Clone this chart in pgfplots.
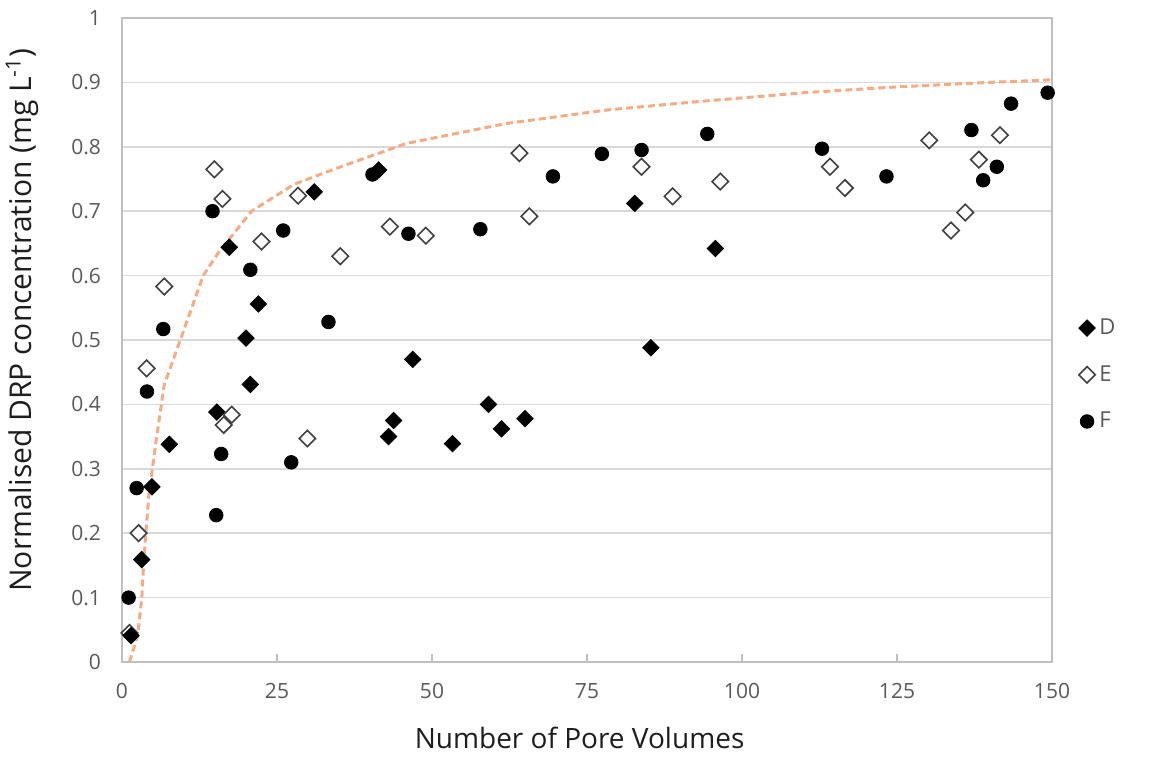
\documentclass[border=0pt]{standalone}
\usepackage{fontspec}
\setmainfont{Open Sans}
\usepackage{pgfplots}
\pgfplotsset{compat=1.18}
\definecolor{gridc}{RGB}{217,217,217}
\definecolor{axc}{RGB}{191,191,191}
\definecolor{tickc}{RGB}{89,89,89}
\definecolor{labc}{RGB}{30,30,30}
\definecolor{curvec}{RGB}{244,172,132}
\definecolor{edgec}{RGB}{64,64,64}
\begin{document}
\begin{tikzpicture}
\useasboundingbox (0,0) rectangle (579pt,379pt);
\begin{axis}[
  at={(61pt,48pt)}, anchor=south west,
  scale only axis, width=465pt, height=322pt,
  xmin=0, xmax=150, ymin=0, ymax=1,
  xtick={0,25,50,75,100,125,150},
  xticklabels={0,25,50,75,100,125,150},
  ytick={0,0.1,0.2,0.3,0.4,0.5,0.6,0.7,0.8,0.9,1},
  yticklabels={0,0.1,0.2,0.3,0.4,0.5,0.6,0.7,0.8,0.9,1},
  ymajorgrids, major grid style={gridc, line width=0.8pt},
  axis line style={axc, line width=0.8pt},
  tick align=inside, xtick pos=bottom, ytick pos=left,
  xtick style={axc, line width=0.8pt}, major tick length=4pt,
  ytick style={draw=none},
  tick label style={font=\fontsize{10.5}{12}\selectfont, text=tickc},
  xticklabel style={yshift=-7pt},
  yticklabel style={xshift=-7pt},
  xlabel={Number of Pore Volumes},
  ylabel={Normalised DRP concentration (mg L\textsuperscript{-1})},
  label style={text=labc},
  xlabel style={font=\fontsize{14}{16}\selectfont, at={(axis description cs:0.492,-0.118)}, anchor=center},
  ylabel style={font=\fontsize{15}{17}\selectfont, at={(axis description cs:-0.1075,0.531)}, anchor=center},
  legend style={at={(1.022,0.446)}, anchor=west, draw=none, fill=none,
    font=\fontsize{11}{13}\selectfont, text=tickc, row sep=10pt},
  legend cell align=left,
]
\addlegendimage{only marks, mark=square*, mark size=2.9pt, mark options={rotate=45, fill=black, draw=black}}
\addlegendimage{only marks, mark=square*, mark size=2.9pt, mark options={rotate=45, fill=white, draw=edgec, line width=0.8pt}}
\addlegendimage{only marks, mark=*, mark size=3.4pt, mark options={fill=black, draw=black}}
\legend{D,E,F}

\addplot[forget plot, curvec, line width=1.5pt, dash pattern=on 3.5pt off 2pt] coordinates {
(1.2,0) (2.5,0.04) (3.2,0.10) (3.5,0.155) (4.3,0.257) (5.4,0.336) (6.8,0.43) (9.4,0.50) (13.1,0.60) (15.5,0.635) (20.9,0.70) (27.8,0.742) (35,0.768) (45.8,0.805) (61.9,0.836) (78.1,0.857) (91.5,0.869) (110,0.884) (125,0.893) (140,0.900) (150,0.904)
};

\addplot[forget plot, only marks, mark=*, mark size=3.4pt, mark options={fill=black, draw=black}] coordinates {
(1.07,0.1) (2.36,0.27) (4.03,0.42) (6.66,0.517) (14.6,0.70) (15.2,0.228) (16.0,0.323) (20.7,0.609) (26.0,0.670) (27.3,0.31) (33.3,0.528) (40.4,0.757) (46.2,0.665) (57.8,0.672) (69.5,0.754) (77.4,0.789) (83.8,0.795) (94.4,0.82) (112.9,0.797) (123.3,0.754) (137.0,0.826) (138.9,0.748) (141.1,0.769) (143.4,0.867) (149.3,0.884)
};

\addplot[forget plot, only marks, mark=square*, mark size=2.9pt, mark options={rotate=45, fill=white, draw=edgec, line width=0.8pt}] coordinates {
(1.2,0.045)
};

\addplot[forget plot, only marks, mark=square*, mark size=2.9pt, mark options={rotate=45, fill=black, draw=black}] coordinates {
(1.45,0.041) (3.17,0.159) (4.83,0.272) (7.63,0.338) (15.3,0.388) (17.3,0.644) (20.0,0.503) (20.7,0.431) (22.0,0.556) (31.0,0.730) (41.4,0.764) (43.0,0.35) (43.8,0.375) (46.9,0.47) (53.3,0.339) (59.1,0.40) (61.2,0.362) (65.0,0.378) (82.7,0.712) (85.3,0.488) (95.7,0.642)
};

\addplot[forget plot, only marks, mark=square*, mark size=2.9pt, mark options={rotate=45, fill=white, draw=edgec, line width=0.8pt}] coordinates {
(2.68,0.2) (3.97,0.456) (6.82,0.583) (14.9,0.765) (16.2,0.719) (16.4,0.368) (17.7,0.384) (22.5,0.653) (28.4,0.724) (29.9,0.347) (35.2,0.630) (43.2,0.676) (49.0,0.662) (64.1,0.79) (65.7,0.692) (83.8,0.769) (88.8,0.723) (96.5,0.746) (114.2,0.769) (116.6,0.736) (130.2,0.81) (133.7,0.670) (136.0,0.698) (138.2,0.78) (141.6,0.818)
};
\end{axis}
\end{tikzpicture}
\end{document}
